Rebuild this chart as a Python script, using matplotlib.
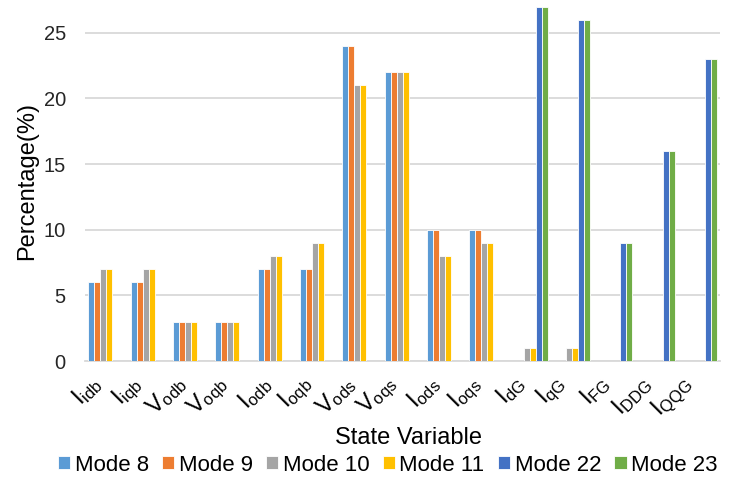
import numpy as np
import matplotlib
matplotlib.use("Agg")
import matplotlib.pyplot as plt

plt.rcParams['font.family'] = ['Liberation Sans', 'DejaVu Sans']
plt.rcParams['mathtext.fontset'] = 'custom'
plt.rcParams['mathtext.rm'] = 'Liberation Sans'
plt.rcParams['mathtext.it'] = 'Liberation Sans:italic'

categories = [r'$\mathregular{I_{idb}}$', r'$\mathregular{I_{iqb}}$', r'$\mathregular{V_{odb}}$',
              r'$\mathregular{V_{oqb}}$', r'$\mathregular{I_{odb}}$', r'$\mathregular{I_{oqb}}$',
              r'$\mathregular{V_{ods}}$', r'$\mathregular{V_{oqs}}$', r'$\mathregular{I_{ods}}$',
              r'$\mathregular{I_{oqs}}$', r'$\mathregular{I_{dG}}$', r'$\mathregular{I_{qG}}$',
              r'$\mathregular{I_{FG}}$', r'$\mathregular{I_{DDG}}$', r'$\mathregular{I_{QQG}}$']

mode_names = ['Mode 8', 'Mode 9', 'Mode 10', 'Mode 11', 'Mode 22', 'Mode 23']
mode8 = [6, 6, 3, 3, 7, 7, 24, 22, 10, 10, 0, 0, 0, 0, 0]
mode9 = [6, 6, 3, 3, 7, 7, 24, 22, 10, 10, 0, 0, 0, 0, 0]
mode10 = [7, 7, 3, 3, 8, 9, 21, 22, 8, 9, 1, 1, 0, 0, 0]
mode11 = [7, 7, 3, 3, 8, 9, 21, 22, 8, 9, 1, 1, 0, 0, 0]
mode22 = [0, 0, 0, 0, 0, 0, 0, 0, 0, 0, 27, 26, 9, 16, 23]
mode23 = [0, 0, 0, 0, 0, 0, 0, 0, 0, 0, 27, 26, 9, 16, 23]

colors = ['#5B9BD5', '#ED7D31', '#A5A5A5', '#FFC000', '#4472C4', '#70AD47']
series = [mode8, mode9, mode10, mode11, mode22, mode23]

fig = plt.figure(figsize=(7.29, 4.86), dpi=100)
ax = fig.add_axes([0.117, 0.257, 0.871, 0.743])

x = np.arange(len(categories))
w = 0.85 / 6
for i, (vals, name, c) in enumerate(zip(series, mode_names, colors)):
    ax.bar(x + (i - 2.5) * w, vals, width=w, color=c, edgecolor='white',
           linewidth=0.6, label=name, zorder=3)

ax.set_xlim(-0.5, len(categories) - 0.5)
ax.set_ylim(0, 27.5)
ax.set_yticks([0, 5, 10, 15, 20, 25])
ax.yaxis.grid(True, color='#d9d9d9', linewidth=1.3, zorder=0)
for s in ['top', 'right', 'left']:
    ax.spines[s].set_visible(False)
ax.spines['bottom'].set_color('#d9d9d9')
ax.spines['bottom'].set_linewidth(1.3)
ax.tick_params(axis='y', length=0, pad=14, labelsize=14.5, labelcolor='#262626')
ax.tick_params(axis='x', length=0, pad=7)
ax.set_xticks(x)
ax.set_xticklabels(categories, rotation=45, ha='right', va='top', fontsize=17)

ax.set_ylabel('Percentage(%)', fontsize=17, labelpad=4)
fig.text(0.56, 0.099, 'State Variable', fontsize=17, ha='center', va='center')

fig.legend(loc='center', bbox_to_anchor=(0.532, 0.043), ncol=6, frameon=False,
           fontsize=16, handlelength=0.55, handleheight=0.55, handletextpad=0.2,
           columnspacing=0.6, borderaxespad=0)

fig.savefig('out.png', dpi=100)
